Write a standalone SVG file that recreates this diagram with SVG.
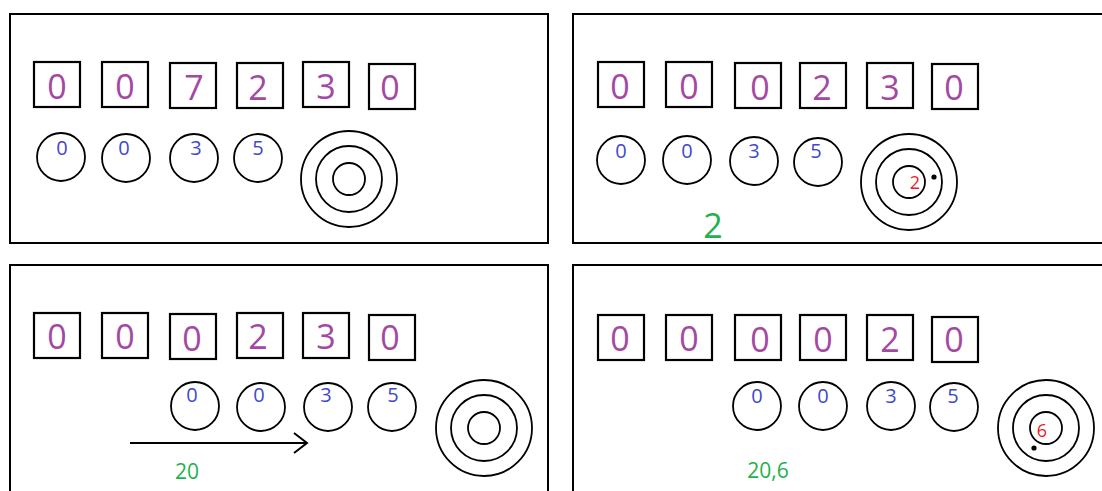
<svg xmlns="http://www.w3.org/2000/svg" width="1102" height="491" viewBox="0 0 1102 491">
<style>
.panel{fill:#fff;stroke:#000;stroke-width:2}
.sq{fill:#fff;stroke:#000;stroke-width:2.2}
.c{fill:none;stroke:#000;stroke-width:1.8}
.d{font-family:"Open Sans","Liberation Sans",sans-serif;font-size:34px;fill:#a349a4;text-anchor:middle}
.b{font-family:"Open Sans","Liberation Sans",sans-serif;font-size:20px;fill:#3f48cc;text-anchor:middle}
.r{font-family:"Open Sans","Liberation Sans",sans-serif;font-size:18px;fill:#ed1c24;text-anchor:middle}
.g{font-family:"Open Sans","Liberation Sans",sans-serif;fill:#22b14c;text-anchor:middle}
</style>
<rect width="1102" height="491" fill="#fff"/>
<g id="panel1">
<rect class="panel" x="10" y="14" width="538" height="229"/>
<g id="p1-squares">
<rect class="sq" x="34" y="62" width="46" height="45"/><text class="d" x="57" y="99">0</text>
<rect class="sq" x="102" y="62" width="46" height="45"/><text class="d" x="125" y="99">0</text>
<rect class="sq" x="170" y="63" width="46" height="45"/><text class="d" x="194" y="100">7</text>
<rect class="sq" x="237" y="63" width="46" height="45"/><text class="d" x="258" y="100">2</text>
<rect class="sq" x="303" y="62" width="46" height="45"/><text class="d" x="326" y="99">3</text>
<rect class="sq" x="369" y="64" width="46" height="45"/><text class="d" x="390" y="100">0</text>
</g>
<g id="p1-circles">
<circle class="c" cx="61" cy="157" r="24"/><text class="b" x="62" y="155">0</text>
<circle class="c" cx="126" cy="158" r="24"/><text class="b" x="124" y="155">0</text>
<circle class="c" cx="194" cy="158" r="24"/><text class="b" x="196" y="155">3</text>
<circle class="c" cx="258" cy="158" r="24"/><text class="b" x="258" y="155">5</text>
</g>
<g id="p1-target">
<circle class="c" cx="349" cy="179" r="48"/><circle class="c" cx="349" cy="179" r="33"/><circle class="c" cx="349" cy="179" r="16"/>
</g>
</g>
<g id="panel2">
<rect class="panel" x="573" y="14" width="540" height="229"/>
<g id="p2-squares">
<rect class="sq" x="598" y="62" width="46" height="45"/><text class="d" x="620" y="99">0</text>
<rect class="sq" x="666" y="62" width="46" height="45"/><text class="d" x="689" y="99">0</text>
<rect class="sq" x="735" y="63" width="46" height="45"/><text class="d" x="760" y="100">0</text>
<rect class="sq" x="800" y="63" width="46" height="45"/><text class="d" x="822" y="100">2</text>
<rect class="sq" x="867" y="63" width="46" height="45"/><text class="d" x="890" y="100">3</text>
<rect class="sq" x="932" y="64" width="46" height="45"/><text class="d" x="954" y="100">0</text>
</g>
<g id="p2-circles">
<circle class="c" cx="621" cy="160" r="24"/><text class="b" x="621" y="158">0</text>
<circle class="c" cx="687" cy="160" r="24"/><text class="b" x="687" y="158">0</text>
<circle class="c" cx="754" cy="161" r="24"/><text class="b" x="754" y="158">3</text>
<circle class="c" cx="818" cy="162" r="24"/><text class="b" x="816" y="158">5</text>
</g>
<g id="p2-target">
<circle class="c" cx="909" cy="182" r="48"/><circle class="c" cx="909" cy="182" r="33"/><circle class="c" cx="909" cy="182" r="16"/>
<text class="r" x="915" y="189">2</text>
<circle cx="934" cy="177" r="2.6" fill="#000"/>
</g>
<text class="g" x="713" y="238" font-size="34">2</text>
</g>
<g id="panel3">
<rect class="panel" x="10" y="265" width="538" height="240"/>
<g id="p3-squares">
<rect class="sq" x="34" y="313" width="46" height="45"/><text class="d" x="57" y="349">0</text>
<rect class="sq" x="102" y="313" width="46" height="45"/><text class="d" x="125" y="349">0</text>
<rect class="sq" x="170" y="314" width="46" height="45"/><text class="d" x="192" y="351">0</text>
<rect class="sq" x="237" y="313" width="46" height="45"/><text class="d" x="258" y="349">2</text>
<rect class="sq" x="303" y="313" width="46" height="45"/><text class="d" x="326" y="349">3</text>
<rect class="sq" x="369" y="315" width="46" height="45"/><text class="d" x="390" y="350">0</text>
</g>
<g id="p3-circles">
<circle class="c" cx="195" cy="406" r="24"/><text class="b" x="192" y="402">0</text>
<circle class="c" cx="261" cy="407" r="24"/><text class="b" x="259" y="402">0</text>
<circle class="c" cx="328" cy="407" r="24"/><text class="b" x="326" y="402">3</text>
<circle class="c" cx="392" cy="407" r="24"/><text class="b" x="393" y="402">5</text>
</g>
<g id="p3-target">
<circle class="c" cx="484" cy="428" r="48"/><circle class="c" cx="484" cy="428" r="33"/><circle class="c" cx="484" cy="428" r="16"/>
</g>
<text class="g" x="187" y="479" font-size="21">20</text>
</g>
<g id="panel4">
<rect class="panel" x="573" y="265" width="540" height="240"/>
<g id="p4-squares">
<rect class="sq" x="598" y="315" width="46" height="45"/><text class="d" x="620" y="351">0</text>
<rect class="sq" x="666" y="315" width="46" height="45"/><text class="d" x="689" y="351">0</text>
<rect class="sq" x="735" y="315" width="46" height="45"/><text class="d" x="760" y="352">0</text>
<rect class="sq" x="800" y="315" width="46" height="45"/><text class="d" x="823" y="352">0</text>
<rect class="sq" x="867" y="315" width="46" height="45"/><text class="d" x="890" y="352">2</text>
<rect class="sq" x="932" y="317" width="46" height="45"/><text class="d" x="954" y="352">0</text>
</g>
<g id="p4-circles">
<circle class="c" cx="757" cy="406" r="24"/><text class="b" x="757" y="403">0</text>
<circle class="c" cx="823" cy="406" r="24"/><text class="b" x="823" y="403">0</text>
<circle class="c" cx="891" cy="406" r="24"/><text class="b" x="891" y="403">3</text>
<circle class="c" cx="954" cy="407" r="24"/><text class="b" x="953" y="403">5</text>
</g>
<g id="p4-target">
<circle class="c" cx="1046" cy="428" r="48"/><circle class="c" cx="1046" cy="428" r="33"/><circle class="c" cx="1046" cy="428" r="16"/>
<text class="r" x="1042" y="437">6</text>
<circle cx="1034" cy="448" r="2.6" fill="#000"/>
</g>
<text class="g" x="768" y="478" font-size="21">20,6</text>
</g>
<g id="connectors">
<line x1="130" y1="443" x2="307" y2="443" stroke="#000" stroke-width="2"/>
<polyline points="294,433 307,443 294,453" fill="none" stroke="#000" stroke-width="2"/>
</g>
</svg>
